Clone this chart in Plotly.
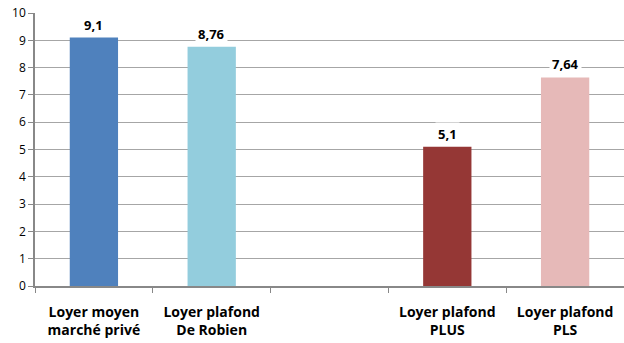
import plotly.graph_objects as go

# Loyers (€/m²) : marché privé vs plafonds réglementaires
categories = ["Loyer moyen<br>marché privé", "Loyer plafond<br>De Robien", " ",
              "Loyer plafond<br>PLUS", "Loyer plafond<br>PLS"]
values = [9.1, 8.76, None, 5.1, 7.64]
labels = ["9,1", "8,76", "", "5,1", "7,64"]
colors = ["#4F81BD", "#93CDDD", "#FFFFFF", "#953735", "#E6B9B8"]
y_ticks = list(range(0, 11))

font_family = "Open Sans, Liberation Sans, sans-serif"

fig = go.Figure(go.Bar(
    x=categories,
    y=values,
    marker=dict(color=colors, line=dict(width=0)),
    width=0.41,
    hoverinfo="skip",
))

for cat, val, lab in zip(categories, values, labels):
    if val is None:
        continue
    fig.add_annotation(
        x=cat, y=val, text=f"<b>{lab}</b>",
        showarrow=False, yanchor="bottom", yshift=1,
        font=dict(family=font_family, size=13, color="#000000"),
        bgcolor="#FFFFFF", borderpad=2,
    )

fig.update_layout(
    width=624, height=343,
    margin=dict(l=35, r=0, t=13, b=57),
    paper_bgcolor="#FFFFFF",
    plot_bgcolor="#FFFFFF",
    showlegend=False,
    bargap=0.59,
    font=dict(family=font_family, color="#000000"),
)

fig.update_xaxes(
    type="category",
    showline=True, linecolor="#888888", linewidth=1.5,
    ticks="outside", tickson="boundaries", ticklen=5, tickcolor="#888888",
    tickfont=dict(family=font_family, size=14, color="#000000", weight="bold"),
    ticklabelstandoff=12,
    showgrid=False,
)

fig.update_yaxes(
    range=[0, 10],
    tickvals=y_ticks,
    showline=True, linecolor="#888888", linewidth=1.5,
    ticks="outside", ticklen=5, tickcolor="#888888",
    tickfont=dict(family=font_family, size=12, color="#000000"),
    showgrid=True, gridcolor="#A6A6A6", gridwidth=1.4,
    zeroline=False,
)

fig.write_html("out.html")
